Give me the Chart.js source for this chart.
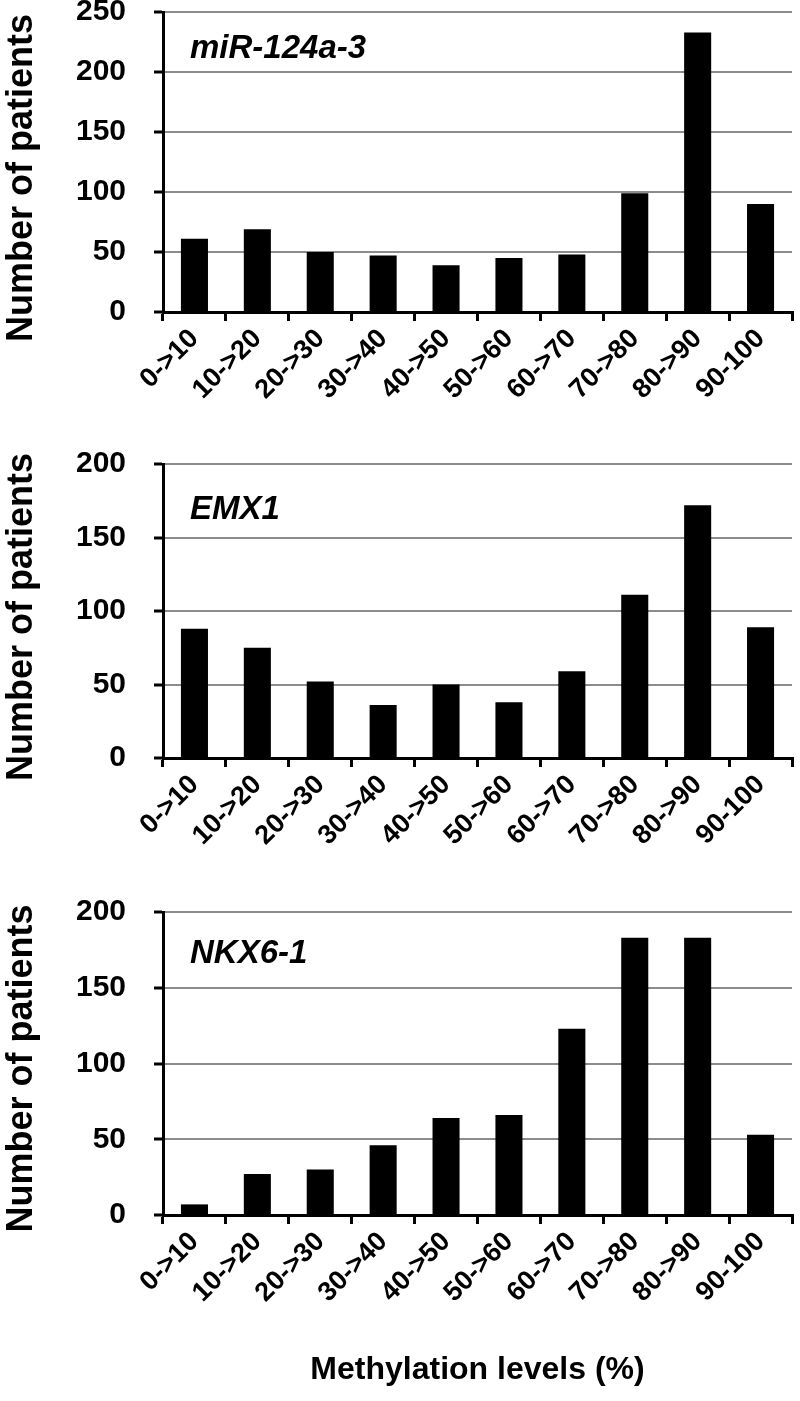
<!DOCTYPE html>
<html>
<head>
<meta charset="utf-8">
<script src="https://cdn.jsdelivr.net/npm/chart.js@4.4.1/dist/chart.umd.min.js"></script>
<style>
  html, body { margin: 0; padding: 0; background: #fff; }
  #page { position: relative; width: 800px; height: 1401px; overflow: hidden; }
  canvas { position: absolute; left: 0; }
</style>
</head>
<body>
<div id="page">
  <canvas id="chartMir" width="800" height="432" style="top:0px"></canvas>
  <canvas id="chartEmx" width="800" height="426" style="top:452px"></canvas>
  <canvas id="chartNkx" width="800" height="501" style="top:900px"></canvas>
</div>
<script>
// categories (methylation level bins)
const categories = ['0->10', '10->20', '20->30', '30->40', '40->50', '50->60', '60->70', '70->80', '80->90', '90-100'];

// number of patients per bin
const mirValues = [61, 69, 50, 47, 39, 45, 48, 99, 233, 90];
const emxValues = [88, 75, 52, 36, 50, 38, 59, 111, 172, 89];
const nkxValues = [7, 27, 30, 46, 64, 66, 123, 183, 183, 53];

// gene names shown in each panel
const geneNames = ['miR-124a-3', 'EMX1', 'NKX6-1'];

// y axis ranges
const yMaxValues = [250, 200, 200];
const yStep = 50;

const FONT = "'Liberation Sans', Arial, Helvetica, sans-serif";

// gene name in the top-left corner of the plot area + rotated y title
const panelTextPlugin = {
    id: 'panelText',
    afterDraw(chart, args, opts) {
        const ctx = chart.ctx;
        const area = chart.chartArea;
        ctx.save();
        ctx.fillStyle = '#000';

        ctx.font = 'italic bold 33px ' + FONT;
        ctx.textAlign = 'left';
        ctx.textBaseline = 'alphabetic';
        ctx.fillText(opts.gene, area.left + 27, area.top + opts.geneDy);

        // y axis title, centred a bit below the plot centre like the original
        ctx.font = 'bold 36px ' + FONT;
        ctx.textAlign = 'center';
        ctx.textBaseline = 'middle';
        ctx.translate(22, (area.top + area.bottom) / 2 + opts.titleDy);
        ctx.rotate(-Math.PI / 2);
        ctx.fillText('Number of patients', 0, 0);
        ctx.restore();
    }
};

function makePanel(canvasId, values, gene, yMax, xHeight, withXTitle, geneDy, titleDy) {
    new Chart(document.getElementById(canvasId), {
        type: 'bar',
        data: {
            labels: categories,
            datasets: [{
                data: values,
                backgroundColor: '#000',
                borderWidth: 0,
                barPercentage: 0.43,
                categoryPercentage: 1.0
            }]
        },
        plugins: [panelTextPlugin],
        options: {
            responsive: false,
            devicePixelRatio: 1,
            animation: false,
            layout: { padding: { left: 0, right: 8, top: 12, bottom: 0 } },
            plugins: {
                legend: { display: false },
                tooltip: { enabled: false },
                panelText: { gene: gene, geneDy: geneDy, titleDy: titleDy }
            },
            scales: {
                x: {
                    grid: {
                        offset: true,
                        drawOnChartArea: false,
                        color: '#000',
                        lineWidth: 3,
                        tickLength: 9
                    },
                    border: { color: '#000', width: 3 },
                    ticks: {
                        color: '#000',
                        font: { family: FONT, size: 27, weight: 'bold' },
                        minRotation: 45,
                        maxRotation: 45,
                        autoSkip: false,
                        padding: 2
                    },
                    title: {
                        display: withXTitle,
                        text: 'Methylation levels (%)',
                        color: '#000',
                        font: { family: FONT, size: 32, weight: 'bold' },
                        padding: { top: 0, bottom: 12 }
                    },
                    afterFit(scale) {
                        scale.height = xHeight;
                        scale.paddingLeft = 0;
                        scale.paddingRight = 0;
                    }
                },
                y: {
                    min: 0,
                    max: yMax,
                    ticks: {
                        stepSize: yStep,
                        color: '#000',
                        font: { family: FONT, size: 30, weight: 'bold' },
                        padding: 28
                    },
                    grid: {
                        color: ctx => (ctx.tick && ctx.tick.value === 0) ? '#000' : '#8c8c8c',
                        lineWidth: 2,
                        tickColor: '#000',
                        tickWidth: 3,
                        tickLength: 9
                    },
                    border: { color: '#000', width: 3 },
                    afterFit(scale) {
                        scale.width = 163;
                        scale.paddingTop = 0;
                        scale.paddingBottom = 0;
                    }
                }
            }
        }
    });
}

makePanel('chartMir', mirValues, geneNames[0], yMaxValues[0], 120, false, 46, 16);
makePanel('chartEmx', emxValues, geneNames[1], yMaxValues[1], 120, false, 55, 6);
makePanel('chartNkx', nkxValues, geneNames[2], yMaxValues[2], 186, true, 51, 5);
</script>
</body>
</html>
